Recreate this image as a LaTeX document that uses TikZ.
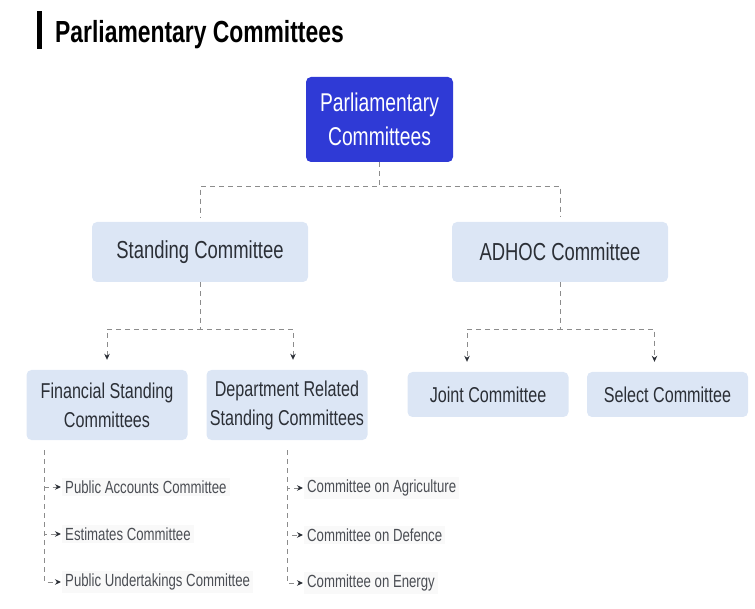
\documentclass[tikz,border=0pt]{standalone}
\usepackage{fontspec}
\setmainfont{Liberation Sans}[FakeStretch=0.75]
\usetikzlibrary{calc,positioning,arrows.meta}
\definecolor{mainBlue}{HTML}{2F3AD6}
\definecolor{boxBlue}{HTML}{DCE6F5}
\definecolor{lineGray}{HTML}{8C8C8C}
\definecolor{textDark}{HTML}{2B2F36}
\tikzset{
  topbox/.style={fill=mainBlue, rounded corners=5pt, text=white, align=center,
    minimum width=147pt, minimum height=85pt, font=\fontsize{25.7}{34}\selectfont},
  midbox/.style={fill=boxBlue, rounded corners=5pt, text=textDark, align=center,
    minimum width=216pt, minimum height=60pt, font=\fontsize{24.6}{30}\selectfont},
  lowbox/.style={fill=boxBlue, rounded corners=5pt, text=textDark, align=center,
    minimum width=161pt, font=\fontsize{21.5}{29}\selectfont},
  item/.style={fill=black!2.5, text=textDark!85, inner sep=3pt, anchor=west,
    font=\fontsize{17.6}{20}\selectfont},
  link/.style={draw=lineGray, line width=0.9pt, dash pattern=on 5pt off 4pt},
  linkArrow/.style={link, -{Stealth[length=6pt,width=5.5pt,color=textDark]}, shorten >=10pt}
}
\begin{document}
\begin{tikzpicture}[x=1pt,y=-1pt]
        \useasboundingbox (0,0) rectangle (755,609);
        %
        \fill (37,11) rectangle (42,49);
        \node[anchor=base west, inner sep=0pt, font=\fontsize{30.5}{34}\bfseries] (T) at (55,43) {Parliamentary Committees};

        %
        \node[topbox] (PC) at (379.5,119.5) {Parliamentary\\Committees};
        \node[midbox] (SC) at (200,252) {Standing Committee};
        \node[midbox] (AC) at (560,252) {ADHOC Committee};
        \node[lowbox, minimum height=70pt] (FS) at (107,405) {Financial Standing\\Committees};
        \node[lowbox, minimum height=70pt] (DR) at (287,405) {Department Related\\Standing Committees};
        \node[lowbox, minimum height=45pt] (JC) at (488,394.5) {Joint Committee};
        \node[lowbox, minimum height=45pt] (SL) at (667.5,394.5) {Select Committee};

        %
        \node[item] (PA) at (62,487) {Public Accounts Committee};
        \node[item] (EC) at (62,534) {Estimates Committee};
        \node[item] (PU) at (62,582) {Public Undertakings Committee};
        \node[item] (CA) at (304,488) {Committee on Agriculture};
        \node[item] (CD) at (304,535) {Committee on Defence};
        \node[item] (CE) at (304,583) {Committee on Energy};

        %
        \draw[link, shorten >=5pt] (PC.south) -- ++(0,24) -| (SC.north);
        \draw[link, shorten >=5pt] (PC.south) -- ++(0,24) -| (AC.north);
        \draw[linkArrow] (SC.south) -- ++(0,47) -| (FS.north);
        \draw[linkArrow] (SC.south) -- ++(0,47) -| ($(DR.north)+(6,0)$);
        \draw[linkArrow] (AC.south) -- ++(0,47) -| ($(JC.north)+(-21,0)$);
        \draw[linkArrow] (AC.south) -- ++(0,47) -| ($(SL.north)+(-13,0)$);

        %
        \draw[linkArrow, shorten >=1pt] ($(FS.south west)+(18,10)$) |- (PA.west);
        \draw[linkArrow, shorten >=1pt] ($(FS.south west)+(18,10)$) |- (EC.west);
        \draw[linkArrow, shorten >=1pt] ($(FS.south west)+(18,10)$) |- (PU.west);
        \draw[linkArrow, shorten >=1pt] ($(DR.south)+(0,10)$) |- (CA.west);
        \draw[linkArrow, shorten >=1pt] ($(DR.south)+(0,10)$) |- (CD.west);
        \draw[linkArrow, shorten >=1pt] ($(DR.south)+(0,10)$) |- (CE.west);
    \end{tikzpicture}
\end{document}
